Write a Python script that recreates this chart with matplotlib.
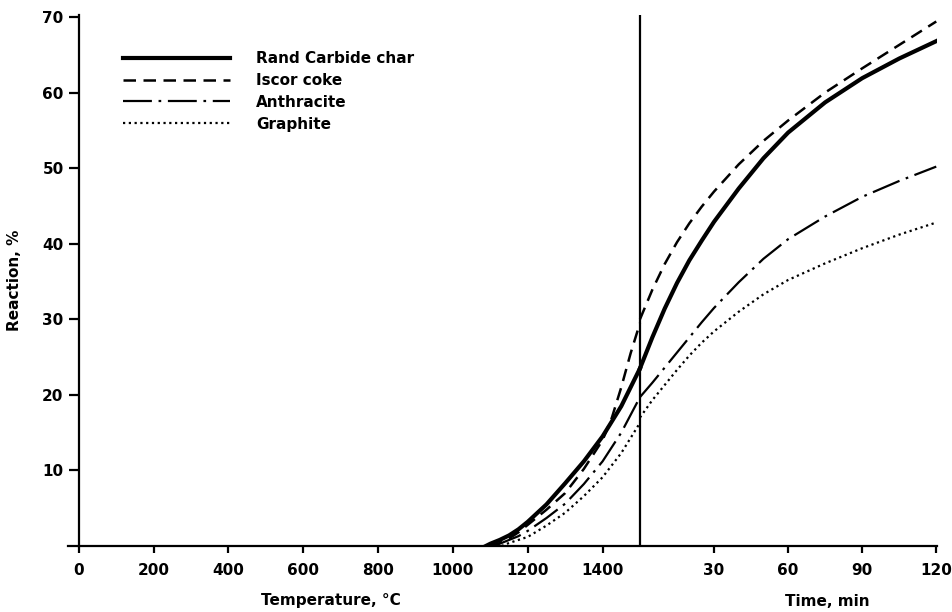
import matplotlib.pyplot as plt

plt.rcParams['font.family'] = ['DejaVu Sans']
plt.rcParams['font.weight'] = 'bold'

# time axis is drawn after 1500 C, 1 min = MIN_SCALE temperature units
T_SPLIT = 1500
MIN_SCALE = 6.6

temp_ticks = [0, 200, 400, 600, 800, 1000, 1200, 1400]
time_ticks = [30, 60, 90, 120]

# heating part (temperature, C)
rand_temp = [1088, 1100, 1125, 1150, 1175, 1200, 1250, 1300, 1350, 1400, 1450, 1500]
rand_temp_y = [0, 0.3, 0.8, 1.4, 2.2, 3.2, 5.5, 8.3, 11.2, 14.5, 18.5, 23.5]
iscor_temp = [1100, 1125, 1150, 1175, 1200, 1250, 1300, 1350, 1400, 1425, 1450, 1475, 1500]
iscor_temp_y = [0, 0.4, 1.0, 1.8, 2.8, 4.8, 7.0, 10.2, 14.0, 17.0, 21.0, 25.5, 29.5]
anth_temp = [1110, 1125, 1150, 1175, 1200, 1250, 1300, 1350, 1400, 1450, 1500]
anth_temp_y = [0, 0.3, 0.8, 1.3, 2.0, 3.7, 5.6, 8.2, 11.2, 15.0, 19.7]
graph_temp = [1130, 1150, 1175, 1200, 1250, 1300, 1350, 1400, 1450, 1500]
graph_temp_y = [0, 0.4, 0.8, 1.2, 2.7, 4.4, 6.6, 9.1, 12.3, 16.3]

# isothermal part (time, min)
time_min = [0, 5, 10, 15, 20, 25, 30, 40, 50, 60, 75, 90, 105, 120]
rand_time_y = [23.5, 27.6, 31.4, 34.8, 37.8, 40.4, 42.9, 47.3, 51.3, 54.7, 58.7, 61.9, 64.5, 66.8]
iscor_time_y = [30.0, 33.9, 37.3, 40.2, 42.7, 44.9, 46.9, 50.5, 53.6, 56.3, 60.0, 63.2, 66.3, 69.4]
anth_time_y = [19.7, 21.6, 23.6, 25.6, 27.6, 29.6, 31.5, 34.9, 38.0, 40.6, 43.6, 46.2, 48.3, 50.2]
graph_time_y = [17.0, 19.3, 21.3, 23.3, 25.2, 26.9, 28.4, 31.0, 33.3, 35.2, 37.4, 39.4, 41.2, 42.8]

labels = ['Rand Carbide char', 'Iscor coke', 'Anthracite', 'Graphite']


def tmap(t):
    return [T_SPLIT + v * MIN_SCALE for v in t]


fig = plt.figure(figsize=(9.52, 6.12), dpi=100)
W, H = 952, 612
ax = fig.add_axes([68 / W, 66 / H, 869 / W, 531.3 / H])

styles = [
    dict(color='black', lw=3.0, linestyle='-'),
    dict(color='black', lw=1.8, linestyle=(0, (5, 3))),
    dict(color='black', lw=1.6, linestyle=(0, (13, 3, 1.2, 3))),
    dict(color='black', lw=1.6, linestyle=(0, (1, 1.6))),
]
series = [
    (rand_temp, rand_temp_y, rand_time_y),
    (iscor_temp, iscor_temp_y, iscor_time_y),
    (anth_temp, anth_temp_y, anth_time_y),
    (graph_temp, graph_temp_y, graph_time_y),
]
for (tx, ty, my), st, lab in zip(series, styles, labels):
    ax.plot(tx, ty, label=lab, **st)
    ax.plot(tmap(time_min), my, **st)

ax.plot([T_SPLIT, T_SPLIT], [0, 70.3], color='black', lw=1.6)

ax.set_xlim(-29, T_SPLIT + 120 * MIN_SCALE + 2)
ax.set_ylim(0, 70.3)
ax.spines['top'].set_visible(False)
ax.spines['right'].set_visible(False)
ax.spines['left'].set_position(('data', 0))
ax.spines['left'].set_linewidth(1.6)
ax.spines['bottom'].set_linewidth(1.6)

ax.set_xticks(temp_ticks + tmap(time_ticks))
ax.set_xticklabels([str(v) for v in temp_ticks] + [str(v) for v in time_ticks])
ax.set_yticks([10, 20, 30, 40, 50, 60, 70])
ax.tick_params(axis='x', direction='out', length=5, width=1.6, pad=7, labelsize=11)
ax.tick_params(axis='y', direction='out', length=7, width=1.6, pad=4, labelsize=11)

fig.text(331 / W, 1 - 601 / H, 'Temperature, \u00b0C', ha='center', va='center', fontsize=11, fontweight='bold')
fig.text(827 / W, 1 - 601 / H, 'Time, min', ha='center', va='center', fontsize=11, fontweight='bold')
fig.text(15 / W, 1 - 280 / H, 'Reaction, %', ha='center', va='center', rotation=90, fontsize=11, fontweight='bold')

ax.legend(loc='upper left', bbox_to_anchor=(123 / W, 1 - 51 / H), bbox_transform=fig.transFigure,
          frameon=False, fontsize=11, handlelength=7.0, handletextpad=1.7, labelspacing=0.45,
          borderpad=0, borderaxespad=0)

fig.savefig('out.png', dpi=100)
